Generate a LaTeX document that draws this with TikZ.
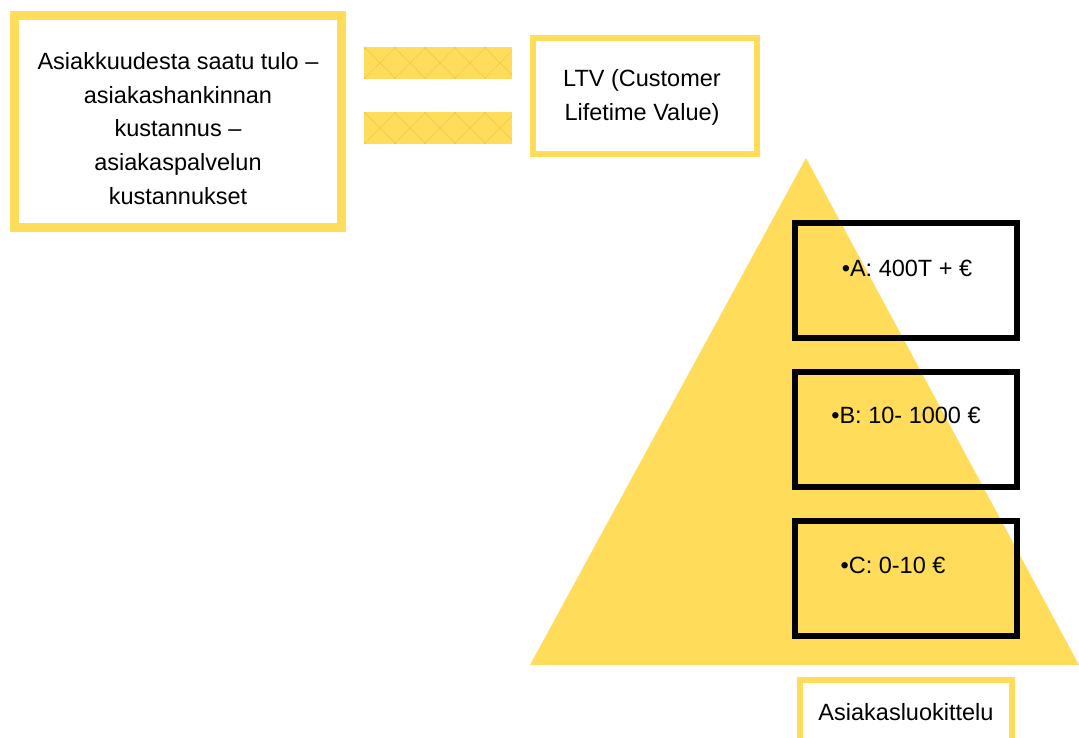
\documentclass[tikz,border=0pt]{standalone}
\usepackage{fontspec}
\setmainfont{Liberation Sans}
\definecolor{sun}{HTML}{FFDC5A}
\definecolor{sunline}{HTML}{EACB58}
\begin{document}
\begin{tikzpicture}[x=1pt,y=-1pt,
  txt/.style={font=\fontsize{23.5}{33.8}\selectfont, align=center, inner sep=0pt},
  sunbox/.style={draw=sun, fill=white, inner sep=0pt},
  tierbox/.style={draw=black, line width=6pt, inner sep=0pt,
    minimum width=222pt, minimum height=115pt}]
\clip (0,0) rectangle (1079,738);
\fill[white] (0,0) rectangle (1079,738);

% pyramid
\fill[sun] (530,665) -- (1079,665) -- (806,158) -- cycle;

% left formula box
\node[sunbox, line width=9pt, minimum width=327pt, minimum height=212pt]
  (formula) at (178,121.5) {};
\node[txt] (formulatxt) at (178,128.5)
  {Asiakkuudesta saatu tulo –\\asiakashankinnan\\kustannus –\\asiakaspalvelun\\kustannukset};

% equals sign with a faint crosshatch
\foreach \yt/\nm in {47/eqtop,112/eqbot}{
  \begin{scope}
    \clip (364,\yt) rectangle (512,\yt+32);
    \fill[sun] (364,\yt) rectangle (512,\yt+32);
    \foreach \k in {-1,...,5}{
      \draw[sunline, line width=0.7pt] (364+\k*30,\yt) -- (396+\k*30,\yt+32);
      \draw[sunline, line width=0.7pt] (396+\k*30,\yt) -- (364+\k*30,\yt+32);
    }
  \end{scope}
  \coordinate (\nm) at (438,\yt+16);
}

% LTV box
\node[sunbox, line width=6pt, minimum width=224pt, minimum height=116pt]
  (ltv) at (645,96) {};
\node[txt] (ltvtxt) at (642,97.5) {LTV (Customer\\Lifetime Value)};

% tier boxes over the pyramid
\node[tierbox] (tierA) at (906,280.5) {};
\node[tierbox] (tierB) at (906,429.5) {};
\node[tierbox] (tierC) at (906,578.5) {};
\node[txt] (tierAtxt) at (907,268) {•A: 400T + €};
\node[txt] (tierBtxt) at (906,415) {•B: 10- 1000 €};
\node[txt] (tierCtxt) at (893,565) {•C: 0-10 €};

% caption box, running past the lower edge
\node[sunbox, line width=6pt, minimum width=212pt, minimum height=110pt,
  anchor=north] (caption) at (906,677) {};
\node[txt] (captiontxt) at (906,712) {Asiakasluokittelu};
\end{tikzpicture}
\end{document}
